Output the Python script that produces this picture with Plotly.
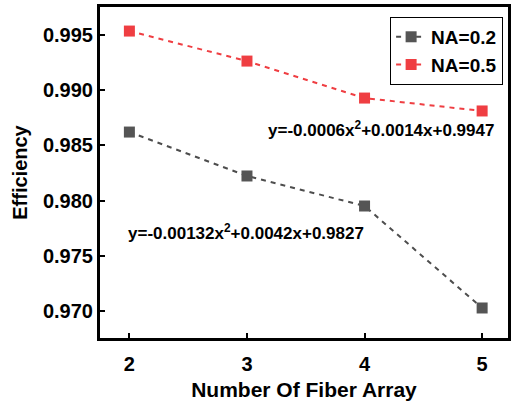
import plotly.graph_objects as go

x_vals = [2, 3, 4, 5]
na02 = [0.98621, 0.98223, 0.97951, 0.97027]
na05 = [0.99536, 0.99264, 0.98929, 0.98812]
y_ticks = [0.970, 0.975, 0.980, 0.985, 0.990, 0.995]
y_tick_labels = ["0.970", "0.975", "0.980", "0.985", "0.990", "0.995"]
eq1 = "y=-0.00132x<sup>2</sup>+0.0042x+0.9827"
eq2 = "y=-0.0006x<sup>2</sup>+0.0014x+0.9947"

FONT = "Liberation Sans"
fig = go.Figure()
fig.add_trace(go.Scatter(x=x_vals, y=na02, name="<b>NA=0.2</b>", mode="lines+markers",
                         line=dict(color="#4d4d4d", dash="5px,5px", width=2),
                         marker=dict(symbol="square", size=11, color="#555555")))
fig.add_trace(go.Scatter(x=x_vals, y=na05, name="<b>NA=0.5</b>", mode="lines+markers",
                         line=dict(color="#ef3e42", dash="5px,5px", width=2),
                         marker=dict(symbol="square", size=11, color="#ef3e42")))

fig.add_annotation(x=2.99, y=0.97715, text="<b>" + eq1 + "</b>", showarrow=False,
                   font=dict(family=FONT, size=17, color="black"))
fig.add_annotation(x=4.14, y=0.98645, text="<b>" + eq2 + "</b>", showarrow=False,
                   font=dict(family=FONT, size=17, color="black"))

axis_common = dict(showline=True, linecolor="black", linewidth=3, mirror=True,
                   ticks="inside", ticklen=5, tickwidth=2, tickcolor="black",
                   showgrid=False, zeroline=False, automargin=False,
                   tickfont=dict(family=FONT, size=20, color="black"))
fig.update_xaxes(range=[1.75, 5.22], tickvals=x_vals, ticktext=["<b>%d</b>" % v for v in x_vals],
                 ticklabelstandoff=6,
                 title=dict(text="<b>Number Of Fiber Array</b>", font=dict(family=FONT, size=21, color="black"), standoff=12),
                 **axis_common)
fig.update_yaxes(range=[0.96755, 0.99754], tickvals=y_ticks, ticktext=["<b>%s</b>" % t for t in y_tick_labels],
                 title=dict(text="<b>Efficiency</b>", font=dict(family=FONT, size=20, color="black"), standoff=10),
                 **axis_common)

fig.update_layout(width=511, height=401, margin=dict(l=100, r=3, t=7, b=63),
                  plot_bgcolor="white", paper_bgcolor="white",
                  legend=dict(x=0.988, y=0.97, xanchor="right", yanchor="top",
                              bordercolor="black", borderwidth=1, bgcolor="white",
                              font=dict(family=FONT, size=19, color="black"),
                              tracegroupgap=0, itemwidth=30))
fig.write_html("out.html")
